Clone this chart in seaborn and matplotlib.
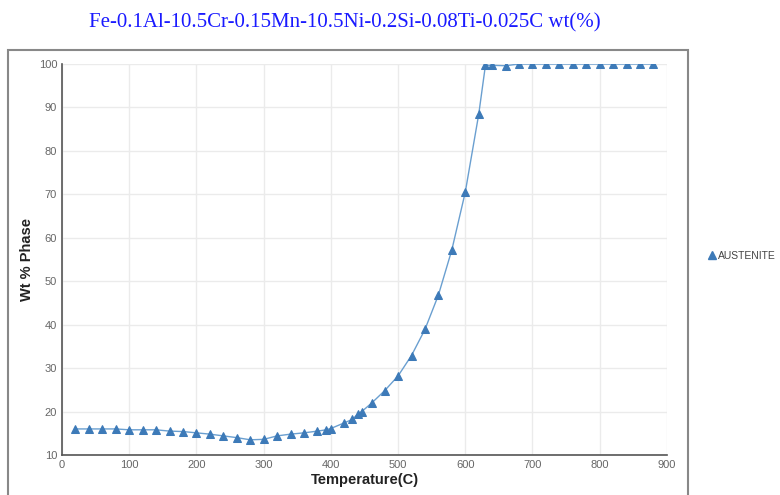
import matplotlib
matplotlib.use("Agg")
import matplotlib.pyplot as plt
from matplotlib.lines import Line2D
from matplotlib.patches import Rectangle
import seaborn as sns
import pandas as pd

title = "Fe-0.1Al-10.5Cr-0.15Mn-10.5Ni-0.2Si-0.08Ti-0.025C wt(%)"
series_name = "AUSTENITE"
temperature = [20, 40, 60, 80, 100, 120, 140, 160, 180, 200, 220, 240, 260, 280, 300,
               320, 340, 360, 380, 393, 400, 420, 432, 440, 446, 461, 480, 500, 520,
               540, 560, 580, 600, 620, 630, 640, 660, 680, 700, 720, 740, 760, 780,
               800, 820, 840, 860, 880]
wt_phase = [16.0, 16.0, 16.0, 16.0, 15.8, 15.8, 15.8, 15.5, 15.4, 15.1, 14.8, 14.4, 14.0,
            13.5, 13.6, 14.4, 14.8, 15.1, 15.5, 15.8, 16.1, 17.4, 18.2, 19.4, 20.0, 22.0,
            24.8, 28.2, 32.9, 38.9, 46.8, 57.2, 70.5, 88.4, 99.7, 99.7, 99.6, 100, 100,
            100, 100, 100, 100, 100, 100, 100, 100, 100]
x_ticks = [0, 100, 200, 300, 400, 500, 600, 700, 800, 900]
y_ticks = [10, 20, 30, 40, 50, 60, 70, 80, 90, 100]

df = pd.DataFrame({"Temperature": temperature, "Wt": wt_phase})

sns.set_style("white")
plt.rcParams["font.family"] = ["Liberation Sans", "DejaVu Sans"]

fig = plt.figure(figsize=(7.8, 4.95), dpi=100)
ax = fig.add_axes([0.0795, 0.0808, 0.7755, 0.7899])

line_color = "#3d7ab8"
sns.lineplot(data=df, x="Temperature", y="Wt", ax=ax, color="#6a9fd0", linewidth=1.0,
             marker="^", markersize=6, markerfacecolor=line_color,
             markeredgecolor=line_color, estimator=None, sort=False, legend=False)

ax.set_xlim(0, 900)
ax.set_ylim(10, 100)
ax.set_xticks(x_ticks)
ax.set_yticks(y_ticks)
ax.set_xticks([50 + 100 * i for i in range(9)], minor=True)
ax.set_yticks([15 + 10 * i for i in range(9)], minor=True)
ax.grid(True, which="major", color="#ebebeb", linewidth=1.0)
ax.set_axisbelow(True)
for s in ["top", "right"]:
    ax.spines[s].set_visible(False)
for s in ["left", "bottom"]:
    ax.spines[s].set_color("#555555")
    ax.spines[s].set_linewidth(1.2)
ax.tick_params(axis="both", which="major", direction="inout", length=5, width=1,
               color="#555555", labelsize=8, labelcolor="#666666", pad=1)
ax.tick_params(axis="both", which="minor", direction="inout", length=4, width=1,
               color="#555555")
ax.set_xlabel("Temperature(C)", fontsize=10.5, fontweight="bold", color="#222222", labelpad=2)
ax.set_ylabel("Wt % Phase", fontsize=10.5, fontweight="bold", color="#222222", labelpad=3)

fig.text(0.442, 0.953, title, ha="center", va="center", color="#1a1aff",
         fontsize=15, family=["Liberation Serif", "DejaVu Serif"])

handle = Line2D([], [], linestyle="none", marker="^", markersize=6,
                markerfacecolor=line_color, markeredgecolor=line_color)
fig.legend([handle], [series_name], loc="center left", bbox_to_anchor=(0.893, 0.483),
           frameon=False, fontsize=7.5, handletextpad=0.0, handlelength=1.2,
           labelcolor="#444444")

fig.patches.append(Rectangle((0.0103, -0.1), 0.8717, 0.999, transform=fig.transFigure,
                             fill=False, edgecolor="#888888", linewidth=1.5))

fig.savefig("out.png", dpi=100)
